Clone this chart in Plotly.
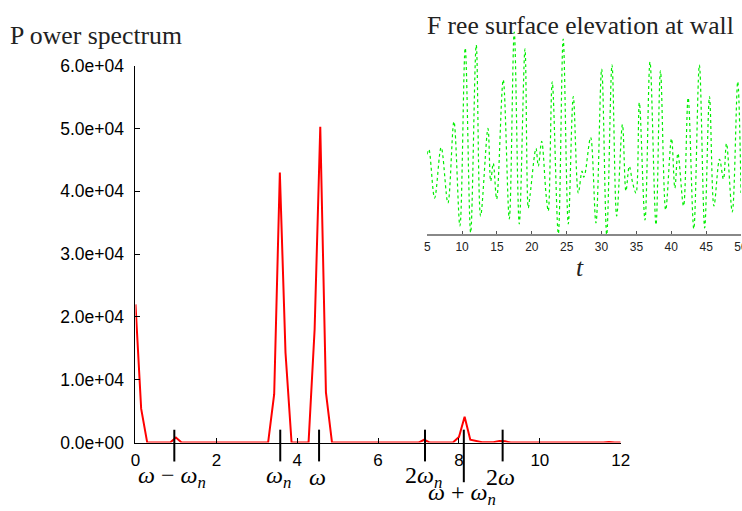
import plotly.graph_objects as go

# ---------------- data ----------------
# Power spectrum (frequency, power)
freq = [0.0, 0.14, 0.29, 0.86, 1.0, 1.14, 3.28, 3.43, 3.57, 3.71, 3.86,
        4.28, 4.43, 4.57, 4.71, 4.86, 7.0, 7.14, 7.28, 7.85, 8.0, 8.14,
        8.28, 8.43, 8.57, 8.85, 9.0, 9.14, 9.28, 11.57, 11.71, 11.85, 12.0]
power = [22000, 5400, 0, 0, 800, 0, 0, 7700, 43000, 14300, 0,
         0, 18000, 50300, 8000, 0, 0, 450, 0, 0, 900, 4100,
         450, 300, 50, 50, 250, 200, 0, 0, 80, 0, 0]

y_tickvals = [0, 10000, 20000, 30000, 40000, 50000, 60000]
y_ticktext = ["0.0e+00", "1.0e+04", "2.0e+04", "3.0e+04", "4.0e+04", "5.0e+04", "6.0e+04"]
x_tickvals = [0, 2, 4, 6, 8, 10, 12]

# Frequency markers
marker_pos = [0.96, 3.58, 4.54, 7.16, 8.12, 9.08]
marker_lbl = ["<i>ω</i> − <i>ω<sub>n</sub></i>", "<i>ω<sub>n</sub></i>", "<i>ω</i>",
              "2<i>ω<sub>n</sub></i>", "<i>ω</i> + <i>ω<sub>n</sub></i>", "2<i>ω</i>"]
marker_long = [False, False, False, False, True, False]

# Free surface elevation at wall (time, elevation)
t = [5.0, 5.24, 6.06, 7.0, 7.97, 8.83, 9.69, 10.45, 11.23, 12.03, 12.66,
     13.71, 14.1, 14.47, 14.96, 15.9, 16.77, 17.48, 18.2, 19.02, 19.49,
     19.75, 20.6, 20.93, 21.41, 22.05, 22.36, 22.93, 23.8, 24.5, 25.23,
     25.95, 26.67, 27.2, 27.45, 27.65, 28.44, 29.2, 30.02, 30.74, 31.5,
     32.17, 33.0, 33.5, 33.98, 34.47, 34.94, 35.42, 36.23, 36.95, 37.81,
     38.45, 39.2, 40.03, 40.52, 40.95, 41.76, 42.42, 43.23, 44.03, 44.79,
     45.48, 46.12, 46.92, 47.48, 47.92, 48.75, 49.53, 50.0]
eta = [-0.13, -0.08, -0.57, -0.06, -0.62, 0.20, -0.85, 0.94, -0.92, 0.97, -0.75,
       0.13, -0.40, -0.22, -0.58, 0.62, -0.78, 1.10, -0.83, 0.93, -0.67,
       -0.54, -0.07, -0.25, 0.00, -0.54, -0.70, 0.60, -0.93, 1.03, -0.83,
       0.45, -0.52, -0.30, -0.36, -0.32, 0.04, -0.82, 0.73, -0.94, 0.77,
       -0.75, 0.17, -0.50, -0.25, -0.42, -0.52, 0.39, -0.79, 0.80, -0.84,
       0.71, -0.69, 0.03, -0.47, -0.12, -0.65, 0.44, -0.88, 0.77, -0.87,
       0.45, -0.65, -0.18, -0.38, -0.02, -0.71, 0.60, -0.52]
t_ticks = [5, 10, 15, 20, 25, 30, 35, 40, 45, 50]

# ---------------- figure ----------------
# The page is shown with an 8px body margin and scaled down a little,
# so layout positions are given in target-picture pixels and mapped back.
PAD = 8
SX, SY = 742 / 758, 511 / 527
W, H = 750, 519
SERIF = "Liberation Serif"
SANS = "Liberation Sans"
FS = 1 / SX  # font compensation


def fx(X):
    return (X / SX - PAD) / W


def fy(Y):
    return 1 - (Y / SY - PAD) / H


fig = go.Figure()
fig.add_trace(go.Scatter(x=freq, y=power, mode="lines",
                         line=dict(color="#ff0000", width=2),
                         xaxis="x", yaxis="y", hoverinfo="skip"))
fig.add_trace(go.Scatter(x=t, y=eta, mode="lines",
                         line=dict(color="#00ee00", width=1.2, dash="dot", shape="spline"),
                         xaxis="x2", yaxis="y2", hoverinfo="skip"))

shapes = []
annotations = []
for xp, lbl, lng in zip(marker_pos, marker_lbl, marker_long):
    y_bot = fy(484) if lng else fy(463)
    shapes.append(dict(type="line", xref="x", yref="paper", x0=xp, x1=xp,
                       y0=fy(431), y1=y_bot,
                       line=dict(color="black", width=2)))
    yc = fy(496) if lng else fy(479)
    annotations.append(dict(text=lbl, xref="x", yref="paper", x=xp, y=yc,
                            xanchor="center", yanchor="middle", xshift=-2,
                            showarrow=False, font=dict(family=SERIF, size=24, color="black")))

annotations.append(dict(text="P ower spectrum", xref="paper", yref="paper",
                        x=fx(11), y=fy(33), xanchor="left", yanchor="middle",
                        showarrow=False, font=dict(family=SERIF, size=25.2 * FS, color="#222")))
annotations.append(dict(text="F ree surface elevation at wall", xref="paper", yref="paper",
                        x=fx(427), y=fy(23), xanchor="left", yanchor="middle",
                        showarrow=False, font=dict(family=SERIF, size=25 * FS, color="#222")))
annotations.append(dict(text="<i>t</i>", xref="paper", yref="paper",
                        x=fx(581), y=fy(267), xanchor="center", yanchor="middle",
                        showarrow=False, font=dict(family=SERIF, size=25 * FS, color="#222")))

fig.update_layout(
    width=W, height=H, autosize=False,
    margin=dict(l=0, r=0, t=0, b=0),
    paper_bgcolor="white", plot_bgcolor="rgba(0,0,0,0)",
    showlegend=False,
    xaxis=dict(domain=[fx(138), fx(622)], range=[0, 12], anchor="y",
               tickvals=x_tickvals, ticks="inside", ticklen=5, tickcolor="black",
               showline=True, linecolor="black", linewidth=1,
               showgrid=False, zeroline=False, ticklabelstandoff=2,
               tickfont=dict(family=SANS, size=17, color="black")),
    yaxis=dict(domain=[fy(444), fy(64)], range=[0, 60000], anchor="x",
               tickvals=y_tickvals, ticktext=y_ticktext,
               ticks="inside", ticklen=5, tickcolor="black",
               showline=True, linecolor="black", linewidth=1,
               showgrid=False, zeroline=False, ticklabelstandoff=7,
               tickfont=dict(family=SANS, size=17.5, color="black")),
    xaxis2=dict(domain=[fx(429), min(1.0, fx(742))], range=[5, 50], anchor="y2",
                tickvals=t_ticks, ticks="inside", ticklen=3, tickcolor="#555",
                showline=True, linecolor="#888", linewidth=2,
                showgrid=False, zeroline=False,
                tickfont=dict(family=SANS, size=12, color="#222")),
    yaxis2=dict(domain=[fy(234), fy(28)], range=[-0.935, 1.12], anchor="x2",
                visible=False),
    shapes=shapes,
    annotations=annotations,
)

fig.write_html("out.html")
